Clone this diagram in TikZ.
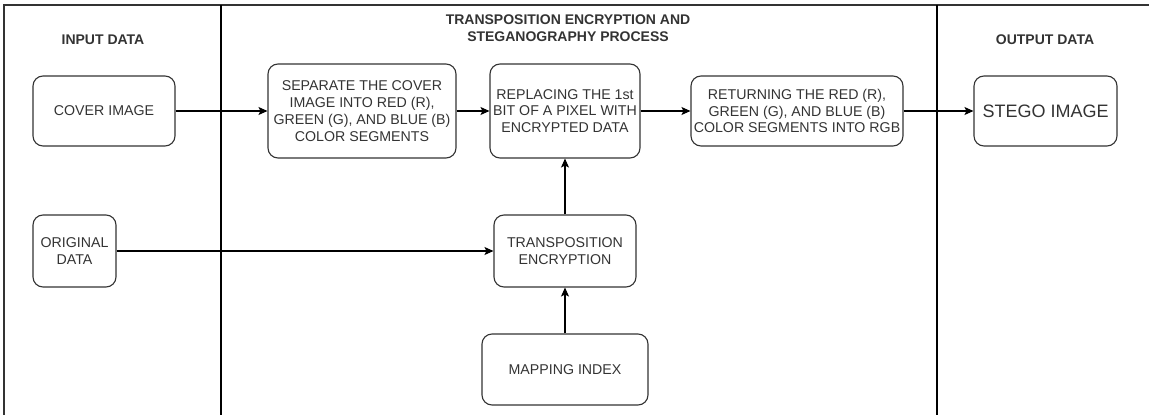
\documentclass[tikz,border=0pt]{standalone}
\usepackage{fontspec}
\setmainfont{Liberation Sans}
\usepackage{xcolor}
\definecolor{inkgray}{HTML}{333333}
\usepackage{tikz}
\usetikzlibrary{positioning,arrows.meta}

\begin{document}
\begin{tikzpicture}[x=1pt, y=-1pt, every node/.style={scale=1}]
    \tikzstyle{box}=[ %
      draw=inkgray, rectangle,
      rounded corners=10pt,
      line width=1.1pt,
      text=inkgray,
      align=center,
      inner sep=0,
      font=\fontsize{14.2}{16.8}\selectfont
    ]
    \tikzstyle{head}=[ %
      text=inkgray,
      align=center,
      font=\bfseries\fontsize{14}{17}\selectfont
    ]
    \tikzstyle{flow}=[ %
      line width=1.1pt, draw=black,
      -{Stealth[length=9pt,width=8pt,inset=2pt]}
    ]
    \useasboundingbox (0,0) rectangle (1149,415);
  %  frame of the three lanes
    \draw[line width=1.2pt, inkgray] (4,415) -- (4,5) -- (1149,5);
    \draw[line width=1.2pt] (221,5) -- (221,415);
    \draw[line width=1.2pt] (937,5) -- (937,415);
  %  lane headings
    \path (103,40)  node(hin) [head] {INPUT DATA}
          (568,28)  node(hmid) [head] {TRANSPOSITION ENCRYPTION AND\\STEGANOGRAPHY PROCESS}
          (1045,40) node(hout) [head] {OUTPUT DATA};
  %  boxes
    \path (104,111)   node(cov) [box, minimum width=142, minimum height=70] {COVER IMAGE}
          (362,111)   node(sep) [box, minimum width=188, minimum height=94]
                {SEPARATE THE COVER\\IMAGE INTO RED (R),\\GREEN (G), AND BLUE (B)\\COLOR SEGMENTS}
          (565,111)   node(rep) [box, minimum width=150, minimum height=94]
                {REPLACING THE 1st\\BIT OF A PIXEL WITH\\ENCRYPTED DATA}
          (797,111)   node(ret) [box, minimum width=212, minimum height=70]
                {RETURNING THE RED (R),\\GREEN (G), AND BLUE (B)\\COLOR SEGMENTS INTO RGB}
          (1045.5,111) node(steg) [box, minimum width=143, minimum height=70,
                font=\fontsize{18}{20}\selectfont] {STEGO IMAGE}
          (74.5,251)  node(orig) [box, minimum width=83, minimum height=72] {ORIGINAL\\DATA}
          (565,251)   node(tra) [box, minimum width=142, minimum height=72] {TRANSPOSITION\\ENCRYPTION}
          (565,369.5) node(map) [box, minimum width=166, minimum height=71] {MAPPING INDEX};
  %  connectors
    \draw[flow] (cov) -- (sep);
    \draw[flow] (sep) -- (rep);
    \draw[flow] (rep) -- (ret);
    \draw[flow] (ret) -- (steg);
    \draw[flow] (orig) -- (tra);
    \draw[flow] (tra) -- (rep);
    \draw[flow] (map) -- (tra);
  \end{tikzpicture}
\end{document}
